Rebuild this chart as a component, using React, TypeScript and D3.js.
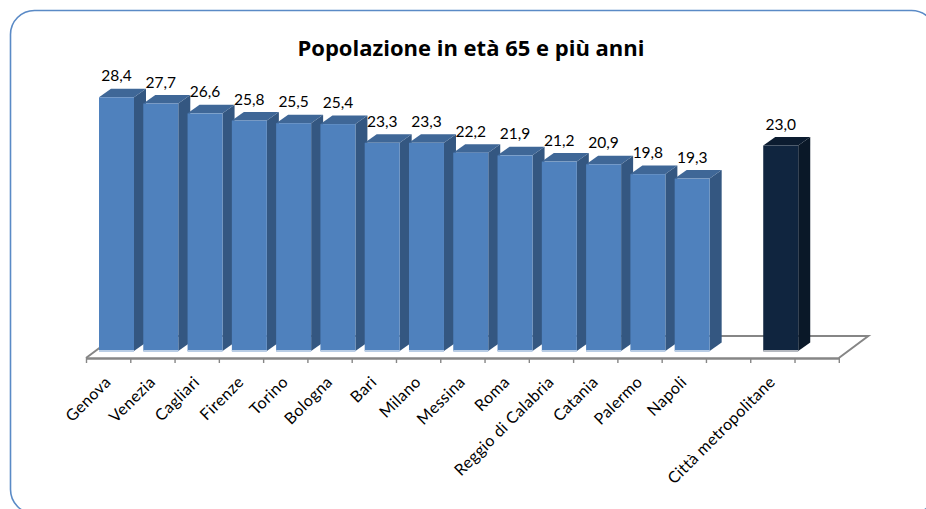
import { useEffect, useRef } from "react";
import * as d3 from "d3";

const categories = ["Genova", "Venezia", "Cagliari", "Firenze", "Torino", "Bologna", "Bari", "Milano", "Messina", "Roma", "Reggio di Calabria", "Catania", "Palermo", "Napoli", "", "Città metropolitane", " "];
const values = [28.4, 27.7, 26.6, 25.8, 25.5, 25.4, 23.3, 23.3, 22.2, 21.9, 21.2, 20.9, 19.8, 19.3, null, 23.0, null];
const totalCategory = "Città metropolitane";
const title = "Popolazione in età 65 e più anni";

const blue = { front: "#4f81bd", side: "#345781", top: "#3f6797", base: "#b9cde5" };
const navy = { front: "#10253f", side: "#0a1828", top: "#0c1c30", base: "#b5b9c0" };
const FONT = "Lato, 'Open Sans', sans-serif";

export default function App() {
  const ref = useRef<SVGSVGElement>(null);

  useEffect(() => {
    const svg = d3.select(ref.current);
    svg.selectAll("*").remove();

    const left = 86;
    const right = 838.8;
    const axisY = 358;
    const baseY = 351;
    const barW = 35;
    const barOffset = 13; // bars sit towards the back of the slot
    const depthX = 12;
    const depthY = 8.5;
    const floorX = 29.5;
    const floorY = 22;

    const x = d3.scaleBand<string>().domain(categories).range([left, right]);
    const y = d3.scaleLinear().domain([0, 30]).range([baseY, baseY - 268]);
    const slots = d3.scaleLinear().domain([0, categories.length]).range([left, right]);

    // chart frame, runs off the right and bottom of the page
    svg
      .append("rect")
      .attr("x", 10.5)
      .attr("y", 10.5)
      .attr("width", 925)
      .attr("height", 503)
      .attr("rx", 24)
      .attr("fill", "#fff")
      .attr("stroke", "#5a8ac6")
      .attr("stroke-width", 1.6);

    svg
      .append("text")
      .attr("x", 471)
      .attr("y", 55.5)
      .attr("text-anchor", "middle")
      .attr("font-family", "'Open Sans', sans-serif")
      .attr("font-weight", 700)
      .attr("font-size", 22)
      .attr("fill", "#000")
      .text(title);

    // floor
    svg
      .append("path")
      .attr("fill", "none")
      .attr("stroke", "#868686")
      .attr("stroke-width", 2)
      .attr(
        "d",
        d3.line()([
          [left, axisY],
          [left + floorX, axisY - floorY],
          [right + floorX, axisY - floorY],
          [right, axisY],
        ])
      );

    const axis = svg
      .append("g")
      .attr("transform", `translate(0,${axisY})`)
      .call(
        d3
          .axisBottom(slots)
          .tickValues(d3.range(categories.length + 1))
          .tickSize(5)
          .tickSizeOuter(0)
          .tickFormat(() => "")
      );
    axis.select(".domain").attr("stroke", "#868686").attr("stroke-width", 2.4);
    axis.selectAll(".tick line").attr("stroke", "#868686").attr("stroke-width", 1.4);

    const rows = categories
      .map((name, i) => ({ name, value: values[i] }))
      .filter((d) => d.value !== null);

    const bars = svg
      .selectAll("g.bar")
      .data(rows)
      .enter()
      .append("g")
      .attr("class", "bar");

    const colors = (d) => (d.name === totalCategory ? navy : blue);
    const x0 = (d) => x(d.name) + barOffset;
    const line = d3.line();

    bars
      .append("path")
      .attr("fill", (d) => colors(d).side)
      .attr("d", (d) => {
        const r = x0(d) + barW;
        const t = y(d.value);
        return (
          line([
            [r, t],
            [r + depthX, t - depthY],
            [r + depthX, baseY - depthY],
            [r, baseY],
          ]) + "Z"
        );
      });

    bars
      .append("path")
      .attr("fill", (d) => colors(d).top)
      .attr("d", (d) => {
        const l = x0(d);
        const t = y(d.value);
        return (
          line([
            [l, t],
            [l + depthX, t - depthY],
            [l + barW + depthX, t - depthY],
            [l + barW, t],
          ]) + "Z"
        );
      });

    bars
      .append("rect")
      .attr("x", x0)
      .attr("y", (d) => y(d.value))
      .attr("width", barW)
      .attr("height", (d) => baseY - y(d.value))
      .attr("fill", (d) => colors(d).front);

    bars
      .append("rect")
      .attr("x", x0)
      .attr("y", baseY - 1)
      .attr("width", barW)
      .attr("height", 2)
      .attr("fill", (d) => colors(d).base);

    // value labels
    svg
      .selectAll("text.value")
      .data(rows)
      .enter()
      .append("text")
      .attr("class", "value")
      .attr("x", (d) => x0(d) + barW / 2)
      .attr("y", (d) => y(d.value) - 16)
      .attr("text-anchor", "middle")
      .attr("font-family", FONT)
      .attr("font-size", 15.5)
      .attr("fill", "#000")
      .text((d) => d3.format(".1f")(d.value).replace(".", ","));

    // rotated category labels
    svg
      .selectAll("text.cat")
      .data(rows)
      .enter()
      .append("text")
      .attr("class", "cat")
      .attr("text-anchor", "end")
      .attr("font-family", FONT)
      .attr("font-size", 16)
      .attr("letter-spacing", 0.4)
      .attr("fill", "#000")
      .attr("transform", (d) => `translate(${x(d.name) + 26},${axisY + 25}) rotate(-45)`)
      .text((d) => d.name);
  }, []);

  return (
    <svg
      ref={ref}
      width={926}
      height={509}
      style={{ position: "absolute", left: 0, top: 0, display: "block" }}
    />
  );
}
